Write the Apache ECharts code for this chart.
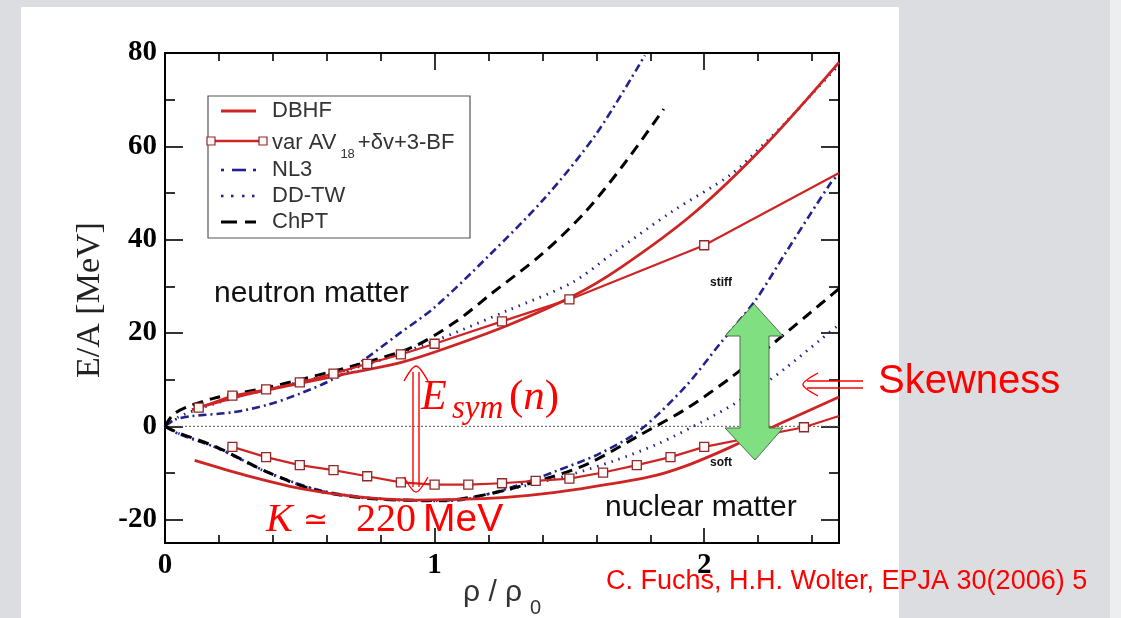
<!DOCTYPE html>
<html>
<head>
<meta charset="utf-8">
<script src="https://cdn.jsdelivr.net/npm/echarts@6/dist/echarts.min.js"></script>
<style>
  html, body { margin: 0; padding: 0; background: #dcdde0; overflow: hidden; }
  #slide { position: absolute; left: 21px; top: 7px; width: 878px; height: 611px; background: #fff; }
  #edge { position: absolute; left: 1110px; top: 0; width: 11px; height: 618px; background: #eceef0; }
  #chart { position: absolute; left: 0; top: 0; width: 1121px; height: 618px; }
</style>
</head>
<body>
<div id="slide"></div>
<div id="edge"></div>
<div id="chart"></div>
<script>
// Tick positions (density rho/rho0 and energy per nucleon in MeV)
const densityTicksMajor = [0, 1, 2];
const densityTicksMinor = [0.2, 0.4, 0.6, 0.8, 1.2, 1.4, 1.6, 1.8, 2.2, 2.4];
const energyTicksMajor = [-20, 0, 20, 40, 60, 80];
const energyTicksMinor = [-10, 10, 30, 50, 70];

// Neutron matter EoS curves [rho/rho0, E/A]
const dbhfNeutron = [[0.1,3.6],[0.3,6.8],[0.5,9.2],[0.7,11.6],[0.87,13.6],[1.02,16.3],[1.27,21.6],[1.51,27.8],[1.69,34],[1.96,45.6],[2.23,60.5],[2.5,78]];
const varAvNeutron = [[0.125,4.0],[0.25,6.6],[0.375,7.9],[0.5,9.4],[0.625,11.3],[0.75,13.4],[0.875,15.4],[1.0,17.7],[1.25,22.5],[1.5,27.2],[2.0,38.8],[2.5,54.3]];
const nl3Neutron = [[0,0],[0.04,1.5],[0.1,2.2],[0.25,3.0],[0.38,4.6],[0.5,7.0],[0.62,10.0],[0.72,13.5],[0.86,19.5],[1.0,25.5],[1.2,36.5],[1.41,49],[1.6,62.7],[1.78,79.5]];
const ddtwNeutron = [[0,0],[0.05,2],[0.15,4.2],[0.3,6.8],[0.5,9.5],[0.75,13.3],[1.0,18.3],[1.27,24.8],[1.51,30.8],[1.66,37],[1.88,46],[2.1,54],[2.23,61],[2.3,65],[2.5,77.5]];
const chptNeutron = [[0,0],[0.03,2.5],[0.08,4.1],[0.18,6],[0.38,8.3],[0.5,10],[0.7,13],[0.92,17],[1.08,22.5],[1.21,28.4],[1.4,37],[1.56,46],[1.7,56],[1.85,68]];

// Symmetric nuclear matter EoS curves [rho/rho0, E/A]
const dbhfNuclear = [[0.11,-7.3],[0.3,-10.5],[0.5,-13.3],[0.7,-15],[0.93,-15.8],[1.18,-15.5],[1.35,-14.8],[1.54,-13.4],[1.8,-10.8],[1.94,-8.3],[2.1,-4.4],[2.29,0.8],[2.5,6.3]];
const varAvNuclear = [[0.25,-4.4],[0.375,-6.6],[0.5,-8.3],[0.625,-9.4],[0.75,-10.7],[0.875,-12.0],[1.0,-12.5],[1.125,-12.5],[1.25,-12.2],[1.375,-11.7],[1.5,-11.2],[1.625,-9.9],[1.75,-8.3],[1.875,-6.6],[2.0,-4.4],[2.37,-0.2],[2.5,2.2]];
const nl3Nuclear = [[0,0],[0.05,-1.6],[0.2,-4.8],[0.38,-9.8],[0.56,-13.5],[0.75,-15.3],[1.0,-16],[1.12,-15.6],[1.3,-12.8],[1.45,-9.6],[1.61,-5.9],[1.76,-0.9],[1.93,8.5],[2.06,17.8],[2.19,27],[2.3,37],[2.47,52.2],[2.5,54]];
const ddtwNuclear = [[0,0],[0.05,-1.5],[0.2,-4.8],[0.38,-9.9],[0.56,-13.6],[0.75,-15.4],[1.0,-15.9],[1.1,-15.6],[1.3,-13.2],[1.5,-10.4],[1.67,-7.3],[1.83,-3.7],[1.99,0.9],[2.12,5.1],[2.24,9.8],[2.3,12.4],[2.43,18.5],[2.5,21.8]];
const chptNuclear = [[0,0],[0.05,-1.4],[0.19,-4.4],[0.38,-9.8],[0.56,-13.7],[0.75,-15.4],[0.99,-15.9],[1.09,-15.6],[1.24,-14],[1.43,-10.9],[1.57,-8],[1.77,-1.6],[1.94,4],[2.1,10.5],[2.24,17],[2.38,23.7],[2.5,29.5]];

const RED = '#cf2424';
const NAVY = '#22228c';
const NOTE = '#ff0000';

// the last point of each var-AV line is the plot edge, not a computed point
function withSquares(pts) {
  return pts.map((p, i) => i === pts.length - 1 ? { value: p, symbol: 'none' } : p);
}

const chart = echarts.init(document.getElementById('chart'), null, { renderer: 'canvas' });

function tickLabel(values) {
  return {
    show: true, customValues: values, margin: 8, color: '#000',
    fontFamily: 'Liberation Serif', fontWeight: 'bold', fontSize: 29,
    formatter: v => String(Math.round(v))
  };
}
function xAxis(position, values, len, labels) {
  return {
    type: 'value', min: 0, max: 2.5, position: position,
    axisLine: { show: false, onZero: false }, splitLine: { show: false },
    axisTick: { show: true, inside: true, length: len, customValues: values, lineStyle: { color: '#000', width: 1.6 } },
    axisLabel: labels ? tickLabel(values) : { show: false }
  };
}
function yAxis(position, values, len, labels) {
  return {
    type: 'value', min: -25, max: 80, position: position,
    axisLine: { show: false, onZero: false }, splitLine: { show: false },
    axisTick: { show: true, inside: true, length: len, customValues: values, lineStyle: { color: '#000', width: 1.6 } },
    axisLabel: labels ? tickLabel(values) : { show: false }
  };
}

function curve(name, data, color, type, width, smooth) {
  return {
    name: name, type: 'line', data: data, smooth: smooth, showSymbol: false, symbol: 'none',
    lineStyle: { color: color, width: width, type: type, cap: 'butt' },
    silent: true, animation: false, z: 3
  };
}
function squares(name, data) {
  return {
    name: name, type: 'line', data: withSquares(data), smooth: false,
    symbol: 'rect', symbolSize: 9, showSymbol: true,
    lineStyle: { color: RED, width: 2.2 },
    itemStyle: { color: '#fff6f6', borderColor: '#8c2a2a', borderWidth: 1.3 },
    silent: true, animation: false, z: 4
  };
}

const ser = [
  {
    type: 'line', data: [[0, 0], [2.5, 0]], symbol: 'none', silent: true, animation: false,
    lineStyle: { color: '#555', width: 1, type: [2, 2] }, z: 2
  },
  curve('NL3', nl3Neutron, NAVY, [8, 4, 2, 4], 2.6, 0.3),
  curve('NL3', nl3Nuclear, NAVY, [8, 4, 2, 4], 2.6, 0.3),
  curve('DD-TW', ddtwNeutron, NAVY, [1.5, 6], 2.8, 0.3),
  curve('DD-TW', ddtwNuclear, NAVY, [1.5, 6], 2.8, 0.3),
  curve('ChPT', chptNeutron, '#000', [11, 7], 3, 0.3),
  curve('ChPT', chptNuclear, '#000', [11, 7], 3, 0.3),
  curve('DBHF', dbhfNeutron, RED, 'solid', 2.8, 0.3),
  curve('DBHF', dbhfNuclear, RED, 'solid', 2.8, 0.3),
  squares('var AV18+dv+3-BF', varAvNeutron),
  squares('var AV18+dv+3-BF', varAvNuclear)
];

// legend drawn by hand, with line samples matching each series style
const LX = 272;
const legendRows = [111, 141, 170, 196, 222];
function seg(x1, y1, x2, y2, color, w) {
  return { type: 'line', shape: { x1, y1, x2, y2 }, style: { stroke: color, lineWidth: w }, z: 101, silent: true };
}
function txt(x, y, text, size, opts) {
  return {
    type: 'text', x: x, y: y, z: 102, silent: true,
    style: Object.assign({ text: text, fontSize: size, fill: NOTE, fontFamily: 'Liberation Sans', verticalAlign: 'middle', align: 'left' }, opts || {})
  };
}
const legendTextStyle = { fill: '#333', fontFamily: 'Liberation Sans' };

const graphics = [
  { type: 'rect', shape: { x: 208, y: 96, width: 262, height: 142 }, style: { fill: '#fff', stroke: '#555', lineWidth: 1.2 }, z: 100, silent: true },
  seg(221, legendRows[0], 256, legendRows[0], RED, 3),
  seg(214, legendRows[1], 261, legendRows[1], RED, 2.5),
  { type: 'rect', shape: { x: 207, y: legendRows[1] - 4, width: 8, height: 8 }, style: { fill: '#fff6f6', stroke: '#8c2a2a', lineWidth: 1.2 }, z: 102, silent: true },
  { type: 'rect', shape: { x: 259, y: legendRows[1] - 4, width: 8, height: 8 }, style: { fill: '#fff6f6', stroke: '#8c2a2a', lineWidth: 1.2 }, z: 102, silent: true },
  seg(221, legendRows[2], 224, legendRows[2], NAVY, 2.6),
  seg(232, legendRows[2], 246, legendRows[2], NAVY, 2.6),
  seg(253, legendRows[2], 256, legendRows[2], NAVY, 2.6),
  seg(221, legendRows[3], 223.5, legendRows[3], NAVY, 2.6),
  seg(231, legendRows[3], 233.5, legendRows[3], NAVY, 2.6),
  seg(242, legendRows[3], 244.5, legendRows[3], NAVY, 2.6),
  seg(252, legendRows[3], 254.5, legendRows[3], NAVY, 2.6),
  seg(221, legendRows[4], 237, legendRows[4], '#000', 3),
  seg(245, legendRows[4], 256, legendRows[4], '#000', 3),
  txt(LX, legendRows[0], 'DBHF', 22, legendTextStyle),
  txt(LX, legendRows[1] + 3, '{a|var AV}{s|18}{a|+δv+3-BF}', 22, Object.assign({
    rich: {
      a: { fontSize: 22, fill: '#333', fontFamily: 'Liberation Sans', lineHeight: 24, verticalAlign: 'top' },
      s: { fontSize: 13, fill: '#333', fontFamily: 'Liberation Sans', lineHeight: 14, padding: [16, 3, 0, 4], verticalAlign: 'top' }
    }
  }, legendTextStyle)),
  txt(LX, legendRows[2], 'NL3', 22, legendTextStyle),
  txt(LX, legendRows[3], 'DD-TW', 22, legendTextStyle),
  txt(LX, legendRows[4], 'ChPT', 22, legendTextStyle),

  // region labels
  txt(214, 294, 'neutron matter', 30, { fill: '#111' }),
  txt(605, 508, 'nuclear matter', 30, { fill: '#111' }),
  txt(710, 283, 'stiff', 12, { fill: '#111', fontWeight: 'bold' }),
  txt(710, 463, 'soft', 12, { fill: '#111', fontWeight: 'bold' }),

  // axis titles
  {
    type: 'text', x: 90, y: 300, rotation: Math.PI / 2, z: 102, silent: true,
    style: { text: 'E/A [MeV]', fontSize: 34, fill: '#222', fontFamily: 'Liberation Serif', align: 'center', verticalAlign: 'middle' }
  },
  txt(463, 593, 'ρ / ρ', 30, { fill: '#333' }),
  txt(530, 608, '0', 20, { fill: '#333' }),

  // green skewness arrow
  {
    type: 'polygon', z: 101, silent: true,
    shape: { points: [[754, 304], [783, 336], [769, 336], [769, 428], [783, 428], [755, 460], [725, 428], [740, 428], [740, 336], [725, 336]] },
    style: { fill: '#80df80', stroke: '#4f6f4f', lineWidth: 1 }
  },

  // symmetry energy double arrow
  seg(413, 372, 413, 487, NOTE, 1.4),
  seg(419, 372, 419, 487, NOTE, 1.4),
  { type: 'polyline', z: 102, silent: true, shape: { points: [[404, 381], [416, 366], [428, 381]], smooth: 0.3 }, style: { stroke: NOTE, lineWidth: 1.4, fill: null } },
  { type: 'polyline', z: 102, silent: true, shape: { points: [[404, 477], [416, 492], [428, 477]], smooth: 0.3 }, style: { stroke: NOTE, lineWidth: 1.4, fill: null } },
  txt(421, 398, 'E', 42, { fontFamily: 'Liberation Serif', fontStyle: 'italic' }),
  txt(452, 409, 'sym', 33, { fontFamily: 'Liberation Serif', fontStyle: 'italic' }),
  txt(509, 398, '{p|(}{n|n}{p|)}', 42, {
    rich: {
      p: { fontSize: 43, fill: NOTE, fontFamily: 'Liberation Serif' },
      n: { fontSize: 43, fill: NOTE, fontFamily: 'Liberation Serif', fontStyle: 'italic' }
    }
  }),

  // incompressibility
  txt(266, 520, 'K', 40, { fontFamily: 'Liberation Serif', fontStyle: 'italic' }),
  txt(303, 521, '≃', 30, { fontFamily: 'DejaVu Serif' }),
  txt(356, 520, '220', 40, { fontFamily: 'Liberation Serif' }),
  txt(423, 520, 'MeV', 39, {}),

  // skewness pointer
  seg(807, 381, 863, 381, NOTE, 1.4),
  seg(807, 388, 863, 388, NOTE, 1.4),
  { type: 'polyline', z: 102, silent: true, shape: { points: [[818, 373], [803, 384.5], [818, 396]], smooth: 0.3 }, style: { stroke: NOTE, lineWidth: 1.4, fill: null } },
  txt(878, 382, 'Skewness', 40, {}),

  // reference
  txt(606, 582, 'C. Fuchs, H.H. Wolter, EPJA 30(2006) 5', 27, {})
];

chart.setOption({
  animation: false,
  backgroundColor: 'transparent',
  grid: { left: 165, top: 53, right: 282, bottom: 75, show: true, borderColor: '#000', borderWidth: 2, backgroundColor: 'transparent' },
  xAxis: [
    xAxis('bottom', densityTicksMajor, 15, true),
    xAxis('bottom', densityTicksMinor, 8, false),
    xAxis('top', densityTicksMajor, 17, false),
    xAxis('top', densityTicksMinor, 8, false)
  ],
  yAxis: [
    yAxis('left', energyTicksMajor, 18, true),
    yAxis('left', energyTicksMinor, 10, false),
    yAxis('right', energyTicksMajor, 18, false),
    yAxis('right', energyTicksMinor, 10, false)
  ],
  series: ser,
  graphic: graphics
});
</script>
</body>
</html>
